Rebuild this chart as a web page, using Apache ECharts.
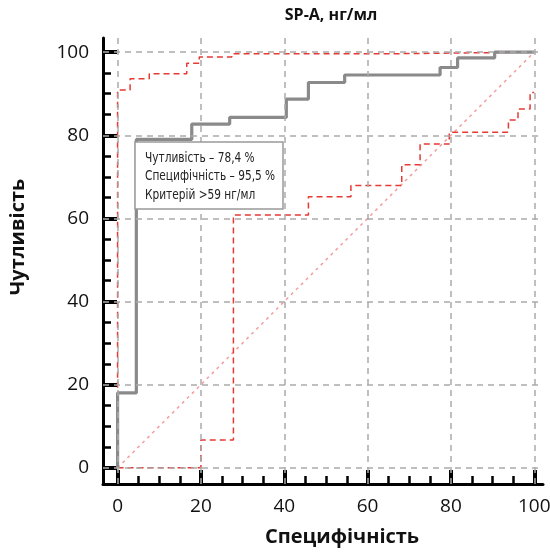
<!DOCTYPE html>
<html>
<head>
<meta charset="utf-8">
<script src="https://cdn.jsdelivr.net/npm/echarts@6/dist/echarts.min.js"></script>
<style>
  html, body { margin: 0; padding: 0; background: #fff; }
  #chart { width: 550px; height: 552px; }
</style>
</head>
<body>
<div id="chart"></div>
<script>
// ROC-крива: точки, де крива піднімається (x = 100 - специфічність, y = чутливість)
const rocFpr = [0, 4.5, 17.8, 26.9, 40.5, 45.8, 54.5, 77.4, 81.6, 90.5];
const rocTpr = [18, 79, 82.7, 84.3, 88.7, 92.7, 94.5, 96.3, 98.6, 100];
// верхня межа 95% ДІ
const upFpr = [0, 3.0, 7.6, 16.6, 19.6, 27.4, 64.9];
const upTpr = [90.9, 93.6, 94.8, 97.3, 98.8, 99.6, 100];
// нижня межа 95% ДІ
const loFpr = [20, 27.8, 45.8, 56.0, 68.2, 72.6, 79.6, 93.8, 96.1, 99.0];
const loTpr = [6.7, 60.8, 65.2, 67.9, 72.9, 77.9, 80.7, 83.7, 86.3, 90.3];

const majorTicks = [0, 20, 40, 60, 80, 100];
const minorTicks = [5, 10, 15, 25, 30, 35, 45, 50, 55, 65, 70, 75, 85, 90, 95];
const legendLines = ['Чутливість – 78,4 %', 'Специфічність – 95,5 %', 'Критерій >59 нг/мл'];

const FONT = '"Open Sans", "DejaVu Sans", sans-serif';
const NARROW = '"Liberation Sans Narrow", "DejaVu Sans Condensed", "Open Sans", sans-serif';

// сходинки: вертикально на кожному x, потім горизонтально до наступного
function stair(xs, ys) {
  const pts = [[0, 0]];
  let prev = 0;
  xs.forEach((x, i) => {
    pts.push([x, prev]);
    pts.push([x, ys[i]]);
    prev = ys[i];
  });
  pts.push([100, prev]);
  return pts;
}

const chart = echarts.init(document.getElementById('chart'), null, { renderer: 'canvas' });

function mainAxis(min, max, pos, labelMargin) {
  return {
    type: 'value', min: min, max: max, position: pos,
    axisLine: { show: true, onZero: false, lineStyle: { color: '#000', width: 3 } },
    axisTick: { show: true, inside: true, customValues: majorTicks, length: 14,
      lineStyle: { color: '#000', width: 4 } },
    axisLabel: { show: true, customValues: majorTicks, margin: labelMargin,
      fontSize: 19, color: '#111', fontFamily: FONT },
    splitLine: { show: false }
  };
}
function minorAxis(min, max, pos) {
  return {
    type: 'value', min: min, max: max, position: pos,
    axisLine: { show: false, onZero: false },
    axisTick: { show: true, inside: true, customValues: minorTicks, length: 8,
      lineStyle: { color: '#000', width: 2.5 } },
    axisLabel: { show: false },
    splitLine: { show: false }
  };
}

const lineBase = { type: 'line', symbol: 'none', silent: true, animation: false };

var option = {
  backgroundColor: '#ffffff',
  animation: false,
  grid: { left: 103, right: 7, top: 38, bottom: 68, containLabel: false, outerBoundsMode: 'none' },
  xAxis: [mainAxis(-3.5, 102.1, 'bottom', 13), minorAxis(-3.5, 102.1, 'bottom')],
  yAxis: [mainAxis(-3.9, 103.4, 'left', 14), minorAxis(-3.9, 103.4, 'left')],
  series: [
    Object.assign({}, lineBase, {
      name: 'grid', z: 1, data: [[0, 0]], lineStyle: { opacity: 0 },
      markLine: {
        silent: true, animation: false, symbol: ['none', 'none'], label: { show: false },
        lineStyle: { color: '#aaaaaa', width: 1.5, type: [6, 5] },
        data: majorTicks.map(v => ({ xAxis: v })).concat(majorTicks.map(v => ({ yAxis: v })))
      }
    }),
    Object.assign({}, lineBase, {
      name: 'diag', z: 2, data: [[0, 0], [100, 100]],
      lineStyle: { color: 'rgba(235,90,90,0.6)', width: 1.5, type: [3, 4] }
    }),
    Object.assign({}, lineBase, {
      name: 'upper', z: 3, data: stair(upFpr, upTpr),
      lineStyle: { color: '#e63a34', width: 1.5, type: [6, 4] }
    }),
    Object.assign({}, lineBase, {
      name: 'lower', z: 3, data: stair(loFpr, loTpr),
      lineStyle: { color: '#e63a34', width: 1.5, type: [6, 4] }
    }),
    Object.assign({}, lineBase, {
      name: 'ROC', z: 4, data: stair(rocFpr, rocTpr),
      lineStyle: { color: '#8a8a8a', width: 3.2 }
    })
  ],
  graphic: [
    { type: 'text', x: 331, y: 15, z: 100,
      style: { text: 'SP-A, нг/мл', textAlign: 'center', textVerticalAlign: 'middle',
        font: 'bold 16px ' + FONT, fill: '#111' } },
    { type: 'text', x: 342, y: 537, z: 100,
      style: { text: 'Специфічність', textAlign: 'center', textVerticalAlign: 'middle',
        font: 'bold 20px ' + FONT, fill: '#111' } },
    { type: 'text', x: 18, y: 237, z: 100, rotation: Math.PI / 2,
      style: { text: 'Чутливість', textAlign: 'center', textVerticalAlign: 'middle',
        font: 'bold 20px ' + FONT, fill: '#111' } },
    { type: 'group', x: 135, y: 142, z: 100, children: [
      { type: 'rect', z: 100, shape: { x: 0, y: 0, width: 148, height: 67 },
        style: { fill: '#fff', stroke: '#999', lineWidth: 1.5 } }
    ].concat(legendLines.map((t, i) => ({
      type: 'text', z: 101, x: 10, y: 16 + i * 18.5, scaleX: 0.84,
      style: { text: t, textVerticalAlign: 'middle', font: '14px ' + NARROW, fill: '#222' }
    }))) }
  ]
};

chart.setOption(option, true);
</script>
</body>
</html>
